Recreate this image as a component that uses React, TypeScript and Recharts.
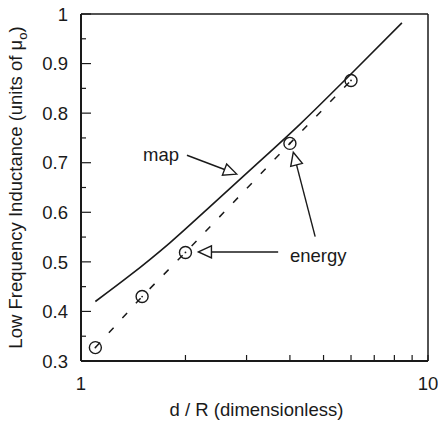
import { ComposedChart, Line, XAxis, YAxis, CartesianGrid, ReferenceLine, ReferenceDot, Label } from 'recharts';

const INK = '#1a1a1a';
const FONT = '"Liberation Sans", Arial, sans-serif';

// solid "map" curve
const mapX = [1.1, 1.38, 1.8, 2.35, 3.07, 4.28, 5.96, 8.41];
const mapY = [0.42, 0.472, 0.538, 0.611, 0.685, 0.778, 0.877, 0.982];

// dashed "energy" points
const energyX = [1.1, 1.5, 2, 4, 6];
const energyY = [0.327, 0.43, 0.519, 0.739, 0.866];

const xTicks = [1, 2, 3, 4, 5, 6, 7, 8, 9, 10];
const xLabeled = [1, 10];
const yTicks = [0.3, 0.35, 0.4, 0.45, 0.5, 0.55, 0.6, 0.65, 0.7, 0.75, 0.8, 0.85, 0.9, 0.95, 1];

// annotation arrows (tail -> tip) and texts
const arrowFromX = [2.02, 3.7, 4.73];
const arrowFromY = [0.715, 0.52, 0.551];
const arrowToX = [2.81, 2.18, 4.09];
const arrowToY = [0.677, 0.52, 0.721];
const noteText = ['map', 'energy'];
const noteX = [1.51, 4.0];
const noteY = [0.703, 0.5];

const mapData = mapX.map((x, i) => ({ x, y: mapY[i] }));
const energyData = energyX.map((x, i) => ({ x, y: energyY[i] }));

const isMajor = (v: number) => Math.abs(v * 10 - Math.round(v * 10)) < 1e-6;

const YTick = (props: any) => {
  const { x, y, payload } = props;
  const v = payload.value;
  const major = isMajor(v);
  return (
    <g>
      <line x1={x} y1={y} x2={x + (major ? 10 : 5)} y2={y} stroke={INK} strokeWidth={1.2} />
      {major && (
        <text x={x - 13} y={y} dy="0.36em" textAnchor="end" fontSize={18.5} fontFamily={FONT} fill={INK}>
          {v === 1 ? '1' : v.toFixed(1)}
        </text>
      )}
    </g>
  );
};

const XTick = (props: any) => {
  const { x, y, payload } = props;
  const v = payload.value;
  return (
    <g>
      <line x1={x} y1={y} x2={x} y2={y - 6} stroke={INK} strokeWidth={1.2} />
      {xLabeled.includes(v) && (
        <text x={x} y={y + 29} textAnchor="middle" fontSize={18.5} fontFamily={FONT} fill={INK}>
          {v}
        </text>
      )}
    </g>
  );
};

const Arrow = (props: any) => {
  const { x1, y1, x2, y2 } = props;
  const a = Math.atan2(y2 - y1, x2 - x1);
  const len = 13;
  const half = 6;
  const bx = x2 - len * Math.cos(a);
  const by = y2 - len * Math.sin(a);
  const px = -Math.sin(a) * half;
  const py = Math.cos(a) * half;
  return (
    <g>
      <line x1={x1} y1={y1} x2={bx} y2={by} stroke={INK} strokeWidth={1.4} />
      <polygon
        points={`${x2},${y2} ${bx + px},${by + py} ${bx - px},${by - py}`}
        fill="#fff"
        stroke={INK}
        strokeWidth={1.4}
        strokeLinejoin="miter"
      />
    </g>
  );
};

const EnergyDot = (p: any) => (
  <g key={`e-${p.index}`}>
    <circle cx={p.cx} cy={p.cy} r={6} fill="none" stroke={INK} strokeWidth={1.4} />
    <circle cx={p.cx} cy={p.cy} r={0.9} fill={INK} />
  </g>
);

export default function App() {
  return (
    <div style={{ position: 'absolute', left: 0, top: 0, background: '#fff' }}>
      <ComposedChart width={438} height={424} margin={{ top: 14, right: 10, left: 0, bottom: 0 }}>
        <CartesianGrid
          stroke={INK}
          strokeWidth={1.5}
          horizontalCoordinatesGenerator={({ offset }: any) => [offset.top, offset.top + offset.height]}
          verticalCoordinatesGenerator={({ offset }: any) => [offset.left, offset.left + offset.width]}
        />
        <XAxis
          dataKey="x"
          type="number"
          scale="log"
          domain={[1, 10]}
          ticks={xTicks}
          interval={0}
          allowDataOverflow
          height={63}
          tickSize={0}
          tickMargin={0}
          tickLine={false}
          axisLine={{ stroke: INK, strokeWidth: 2 }}
          tick={<XTick />}
        >
          <Label
            content={({ viewBox }: any) => (
              <text
                x={viewBox.x + viewBox.width / 2 + 2}
                y={viewBox.y + 55}
                textAnchor="middle"
                fontSize={18.5}
                fontFamily={FONT}
                fill={INK}
              >
                d / R (dimensionless)
              </text>
            )}
          />
        </XAxis>
        <YAxis
          dataKey="y"
          type="number"
          domain={[0.3, 1]}
          ticks={yTicks}
          interval={0}
          allowDataOverflow
          width={81}
          tickSize={0}
          tickMargin={0}
          tickLine={false}
          axisLine={{ stroke: INK, strokeWidth: 2 }}
          tick={<YTick />}
        >
          <Label
            content={({ viewBox }: any) => {
              const cx = viewBox.x + 22;
              const cy = viewBox.y + viewBox.height / 2;
              return (
                <text
                  x={cx}
                  y={cy}
                  transform={`rotate(-90 ${cx} ${cy})`}
                  textAnchor="middle"
                  fontSize={18.5}
                  fontFamily={FONT}
                  fill={INK}
                >
                  <tspan>Low Frequency Inductance (units of μ</tspan>
                  <tspan dy={5} fontSize={13}>o</tspan>
                  <tspan dy={-5}>)</tspan>
                </text>
              );
            }}
          />
        </YAxis>
        <Line
          data={mapData}
          dataKey="y"
          type="monotone"
          stroke={INK}
          strokeWidth={1.6}
          dot={false}
          isAnimationActive={false}
        />
        <Line
          data={energyData}
          dataKey="y"
          type="linear"
          stroke={INK}
          strokeWidth={1.5}
          strokeDasharray="7 13"
          dot={EnergyDot}
          isAnimationActive={false}
        />
        {arrowFromX.map((fx, i) => (
          <ReferenceLine
            key={`arrow-${i}`}
            segment={[
              { x: fx, y: arrowFromY[i] },
              { x: arrowToX[i], y: arrowToY[i] },
            ]}
            shape={Arrow}
          />
        ))}
        {noteText.map((t, i) => (
          <ReferenceDot
            key={`note-${i}`}
            x={noteX[i]}
            y={noteY[i]}
            r={0}
            shape={(p: any) => (
              <text x={p.cx} y={p.cy} textAnchor="start" fontSize={18.5} fontFamily={FONT} fill={INK}>
                {t}
              </text>
            )}
          />
        ))}
      </ComposedChart>
    </div>
  );
}
